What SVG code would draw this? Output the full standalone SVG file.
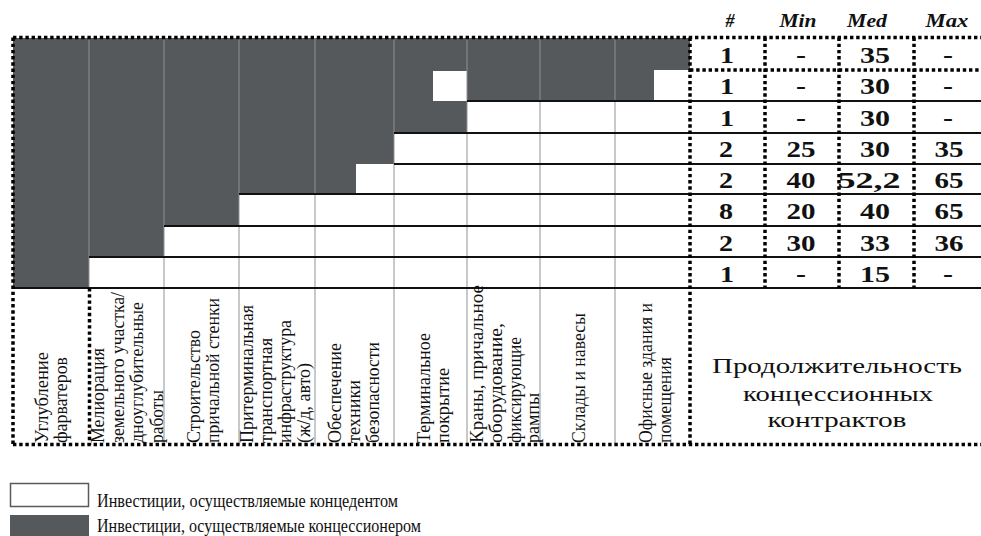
<svg xmlns="http://www.w3.org/2000/svg" width="981" height="536" viewBox="0 0 981 536">
<style>
text{font-family:"Liberation Serif","Times New Roman",serif;fill:#111}
.lab{font-size:18.5px}
.hd{font-size:18px;font-weight:bold;font-style:italic;text-anchor:middle}
.v{font-size:23px;font-weight:bold;text-anchor:middle}
.big{font-size:22px;text-anchor:middle}
.leg{font-size:18.5px}
.dot{stroke:#000;stroke-width:3.5;stroke-dasharray:3.4 2.8;fill:none}
.sol{stroke:#111;stroke-width:2.2;fill:none}
.gr{stroke:#8e9294;stroke-width:1;fill:none}
</style>
<rect width="981" height="536" fill="#fff"/>
<g id="grid">
<path d="M13,38 H690 V70 H654 V101 H467 V133 H394 V164 H356 V194 H239 V226 H164 V257 H89 V288 H13 Z" fill="#55595b"/>
<rect x="433" y="71" width="34" height="30" fill="#fff"/>
<g class="gr">
<path d="M89,38 V288 M164,38 V445 M239,38 V445 M315,38 V445 M394,38 V445 M467,38 V445 M540,38 V445 M615,38 V445"/>
</g>
</g>
<g id="connectors">
<g class="sol">
<path d="M467,101 H981 M394,133 H981 M394,164 H981 M239,194 H981 M164,226 H981 M89,257 H981 M13,288 H981"/>
</g>
<g class="dot">
<path d="M13,37.5 H981"/>
<path d="M690,70 H981"/>
<path d="M13,444.5 H981"/>
<path d="M13,37.5 V445"/>
<path d="M89.5,288 V445"/>
<path d="M690,37.5 V445"/>
<path d="M765,37.5 V288"/>
<path d="M839,37.5 V288"/>
<path d="M914,37.5 V288"/>
</g>
</g>
<g id="labels" class="lab">
<text transform="translate(48,443) rotate(-90)" textLength="91" lengthAdjust="spacingAndGlyphs">Углубление</text>
<text transform="translate(67,443) rotate(-90)" textLength="86" lengthAdjust="spacingAndGlyphs">фарватеров</text>
<text transform="translate(104,443) rotate(-90)" textLength="95" lengthAdjust="spacingAndGlyphs">Мелиорация</text>
<text transform="translate(124,443) rotate(-90)" textLength="151" lengthAdjust="spacingAndGlyphs">земельного участка/</text>
<text transform="translate(143,443) rotate(-90)" textLength="141" lengthAdjust="spacingAndGlyphs">дноуглубительные</text>
<text transform="translate(163,443) rotate(-90)" textLength="53" lengthAdjust="spacingAndGlyphs">работы</text>
<text transform="translate(200,443) rotate(-90)" textLength="113" lengthAdjust="spacingAndGlyphs">Строительство</text>
<text transform="translate(219,443) rotate(-90)" textLength="145" lengthAdjust="spacingAndGlyphs">причальной стенки</text>
<text transform="translate(253,443) rotate(-90)" textLength="138" lengthAdjust="spacingAndGlyphs">Притерминальная</text>
<text transform="translate(272,443) rotate(-90)" textLength="105" lengthAdjust="spacingAndGlyphs">транспортная</text>
<text transform="translate(291,443) rotate(-90)" textLength="123" lengthAdjust="spacingAndGlyphs">инфраструктура</text>
<text transform="translate(310,443) rotate(-90)" textLength="80" lengthAdjust="spacingAndGlyphs">(ж/д, авто)</text>
<text transform="translate(341,443) rotate(-90)" textLength="100" lengthAdjust="spacingAndGlyphs">Обеспечение</text>
<text transform="translate(360,443) rotate(-90)" textLength="63" lengthAdjust="spacingAndGlyphs">техники</text>
<text transform="translate(379,443) rotate(-90)" textLength="101" lengthAdjust="spacingAndGlyphs">безопасности</text>
<text transform="translate(430,443) rotate(-90)" textLength="110" lengthAdjust="spacingAndGlyphs">Терминальное</text>
<text transform="translate(449,443) rotate(-90)" textLength="75" lengthAdjust="spacingAndGlyphs">покрытие</text>
<text transform="translate(483,443) rotate(-90)" textLength="158" lengthAdjust="spacingAndGlyphs">Краны, причальное</text>
<text transform="translate(502,443) rotate(-90)" textLength="120" lengthAdjust="spacingAndGlyphs">оборудование,</text>
<text transform="translate(521,443) rotate(-90)" textLength="106" lengthAdjust="spacingAndGlyphs">фиксирующие</text>
<text transform="translate(539,443) rotate(-90)" textLength="50" lengthAdjust="spacingAndGlyphs">рампы</text>
<text transform="translate(585,443) rotate(-90)" textLength="130" lengthAdjust="spacingAndGlyphs">Склады и навесы</text>
<text transform="translate(652,443) rotate(-90)" textLength="140" lengthAdjust="spacingAndGlyphs">Офисные здания и</text>
<text transform="translate(671,443) rotate(-90)" textLength="86" lengthAdjust="spacingAndGlyphs">помещения</text>
</g>
<g id="duration-label" class="big">
<text x="837" y="373" textLength="250" lengthAdjust="spacingAndGlyphs">Продолжительность</text>
<text x="838" y="401" textLength="190" lengthAdjust="spacingAndGlyphs">концессионных</text>
<text x="837" y="427" textLength="139" lengthAdjust="spacingAndGlyphs">контрактов</text>
</g>
<g id="table-header" class="hd">
<text x="730" y="27">#</text>
<text x="798" y="27" textLength="37" lengthAdjust="spacingAndGlyphs">Min</text>
<text x="867" y="27" textLength="40" lengthAdjust="spacingAndGlyphs">Med</text>
<text x="947" y="27" textLength="43" lengthAdjust="spacingAndGlyphs">Max</text>
</g>
<g id="table-values" class="v">
<g transform="translate(0,63)">
<text x="727" y="0" textLength="14" lengthAdjust="spacingAndGlyphs">1</text>
<text x="801" y="0" textLength="10" lengthAdjust="spacingAndGlyphs">-</text>
<text x="875" y="0" textLength="30" lengthAdjust="spacingAndGlyphs">35</text>
<text x="948" y="0" textLength="10" lengthAdjust="spacingAndGlyphs">-</text>
</g>
<g transform="translate(0,94.25)">
<text x="727" y="0" textLength="14" lengthAdjust="spacingAndGlyphs">1</text>
<text x="801" y="0" textLength="10" lengthAdjust="spacingAndGlyphs">-</text>
<text x="875" y="0" textLength="30" lengthAdjust="spacingAndGlyphs">30</text>
<text x="948" y="0" textLength="10" lengthAdjust="spacingAndGlyphs">-</text>
</g>
<g transform="translate(0,125.5)">
<text x="727" y="0" textLength="14" lengthAdjust="spacingAndGlyphs">1</text>
<text x="801" y="0" textLength="10" lengthAdjust="spacingAndGlyphs">-</text>
<text x="875" y="0" textLength="30" lengthAdjust="spacingAndGlyphs">30</text>
<text x="948" y="0" textLength="10" lengthAdjust="spacingAndGlyphs">-</text>
</g>
<g transform="translate(0,156.75)">
<text x="726" y="0" textLength="14" lengthAdjust="spacingAndGlyphs">2</text>
<text x="801" y="0" textLength="29" lengthAdjust="spacingAndGlyphs">25</text>
<text x="875" y="0" textLength="30" lengthAdjust="spacingAndGlyphs">30</text>
<text x="949" y="0" textLength="29" lengthAdjust="spacingAndGlyphs">35</text>
</g>
<g transform="translate(0,188)">
<text x="726" y="0" textLength="14" lengthAdjust="spacingAndGlyphs">2</text>
<text x="801" y="0" textLength="29" lengthAdjust="spacingAndGlyphs">40</text>
<text x="869" y="0" textLength="63" lengthAdjust="spacingAndGlyphs">52,2</text>
<text x="949" y="0" textLength="29" lengthAdjust="spacingAndGlyphs">65</text>
</g>
<g transform="translate(0,219.25)">
<text x="726" y="0" textLength="14" lengthAdjust="spacingAndGlyphs">8</text>
<text x="801" y="0" textLength="29" lengthAdjust="spacingAndGlyphs">20</text>
<text x="875" y="0" textLength="30" lengthAdjust="spacingAndGlyphs">40</text>
<text x="949" y="0" textLength="29" lengthAdjust="spacingAndGlyphs">65</text>
</g>
<g transform="translate(0,250.5)">
<text x="726" y="0" textLength="14" lengthAdjust="spacingAndGlyphs">2</text>
<text x="801" y="0" textLength="29" lengthAdjust="spacingAndGlyphs">30</text>
<text x="875" y="0" textLength="30" lengthAdjust="spacingAndGlyphs">33</text>
<text x="949" y="0" textLength="29" lengthAdjust="spacingAndGlyphs">36</text>
</g>
<g transform="translate(0,281.75)">
<text x="727" y="0" textLength="14" lengthAdjust="spacingAndGlyphs">1</text>
<text x="801" y="0" textLength="10" lengthAdjust="spacingAndGlyphs">-</text>
<text x="875" y="0" textLength="30" lengthAdjust="spacingAndGlyphs">15</text>
<text x="948" y="0" textLength="10" lengthAdjust="spacingAndGlyphs">-</text>
</g>
</g>
<g id="legend" class="leg">
<rect x="10.5" y="483.5" width="78" height="23" fill="#fff" stroke="#5a5a5a" stroke-width="1.5"/>
<rect x="10" y="515" width="79" height="22" fill="#55595b"/>
<text x="97" y="507" textLength="301" lengthAdjust="spacingAndGlyphs">Инвестиции, осуществляемые концедентом</text>
<text x="97" y="532" textLength="324" lengthAdjust="spacingAndGlyphs">Инвестиции, осуществляемые концессионером</text>
</g>
</svg>
